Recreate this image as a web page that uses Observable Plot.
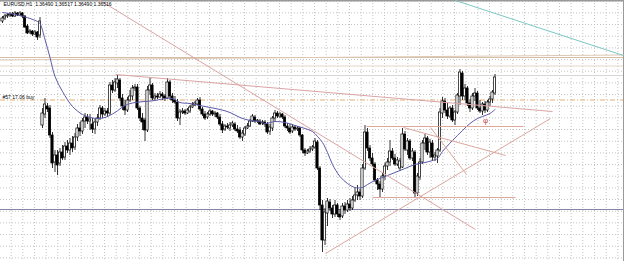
<!DOCTYPE html>
<html><head><meta charset="utf-8">
<script src="https://cdn.jsdelivr.net/npm/d3@7"></script>
<script src="https://cdn.jsdelivr.net/npm/@observablehq/plot@0.6"></script>
<style>
html,body{margin:0;padding:0;background:#fff;overflow:hidden}
#chart{width:625px;height:261px}
</style></head><body><div id="chart"></div>
<script>
// EURUSD hourly bars, prices in pips (1e-4)
const openPips = [13779,13782,13784,13785,13786,13784,13787,13785,13787,13784,13774,13768,13769,13766,13768,13765,
13675,13686,13694,13692,13665,13638,13645,13637,13648,13643,13654,13650,13657,13653,13663,13672,13669,13679,13683,13679,
13676,13671,13678,13682,13692,13686,13689,13687,13715,13710,13717,13720,13702,13694,13690,13700,13704,13712,13713,13692,13682,13680,13670,13710,13715,13702,13704,13703,13706,13704,13702,13718,13704,
13700,13698,13682,13688,13689,13687,13689,13693,13695,13696,13700,13691,13686,13683,13686,13689,13686,13687,13683,13676,13671,13674,13672,13675,13676,13671,13670,13663,13666,13672,13674,13679,13683,13679,
13679,13677,13678,13676,13669,13672,13682,13687,13684,13686,13683,13674,13672,13669,13673,13671,13672,13665,13650,13647,13649,13651,13653,13658,13632,13595,13560,13587,13598,13592,13586,13595,13586,13584,
13594,13590,13596,13592,13600,13605,13608,13604,13632,13668,13652,13642,13636,13620,13616,13611,13624,13634,13638,13649,13642,13636,13632,13633,13666,13650,13659,13642,13648,13607,13623,13638,13657,13662,13648,
13657,13643,13644,13650,13687,13699,13690,13684,13692,13680,13688,13704,13727,13704,13712,13697,13692,13704,13707,13692,13689,13696,13690,13698,13701,13707];
const highPips = [13784,13786,13787,13788,13788,13789,13788,13789,13788,13785,13776,13771,13770,13770,13769,13783,
13692,13702,13697,13695,13668,13650,13650,13652,13655,13658,13660,13662,13664,13667,13676,13678,13682,13687,13686,13686,
13682,13681,13686,13695,13694,13692,13692,13718,13720,13722,13725,13722,13706,13700,13703,13710,13715,13716,13716,13694,13687,13682,13714,13722,13717,13707,13707,13709,13708,13706,13722,13720,13707,
13704,13701,13691,13692,13691,13692,13695,13698,13699,13702,13703,13693,13689,13688,13691,13690,13689,13688,13686,13679,13676,13677,13678,13679,13678,13675,13673,13670,13674,13677,13681,13686,13685,13681,
13681,13680,13680,13678,13676,13684,13690,13689,13688,13687,13685,13677,13676,13676,13675,13674,13673,13666,13652,13651,13654,13655,13662,13660,13634,13600,13592,13602,13601,13595,13600,13597,13591,13597,
13598,13600,13602,13604,13612,13615,13611,13636,13675,13672,13655,13647,13638,13622,13619,13627,13637,13642,13660,13652,13646,13643,13642,13672,13669,13662,13661,13652,13650,13627,13642,13660,13666,13664,13661,
13660,13648,13652,13692,13703,13702,13697,13694,13695,13690,13707,13731,13729,13716,13714,13701,13707,13712,13709,13700,13698,13699,13700,13704,13710,13726];
const lowPips = [13777,13780,13782,13783,13783,13783,13784,13784,13782,13772,13766,13766,13764,13765,13760,13762,
13672,13682,13688,13662,13632,13628,13625,13634,13640,13640,13647,13645,13648,13650,13659,13664,13666,13672,13676,13670,
13667,13666,13674,13680,13682,13684,13683,13685,13707,13708,13712,13699,13690,13685,13688,13698,13700,13709,13690,13679,13670,13659,13668,13705,13700,13700,13701,13702,13700,13699,13701,13700,13697,
13696,13679,13675,13686,13685,13686,13687,13692,13694,13695,13689,13684,13680,13681,13684,13684,13683,13681,13674,13667,13669,13671,13669,13673,13669,13667,13661,13659,13664,13671,13673,13678,13677,13677,
13675,13675,13673,13666,13665,13669,13679,13682,13682,13681,13672,13669,13666,13667,13669,13669,13663,13647,13644,13646,13647,13649,13651,13630,13590,13548,13555,13574,13589,13582,13583,13583,13580,13582,
13586,13588,13589,13590,13598,13600,13600,13602,13630,13649,13639,13633,13618,13610,13603,13608,13620,13630,13634,13640,13634,13634,13629,13632,13649,13645,13640,13639,13603,13604,13620,13636,13650,13645,13642,
13639,13639,13637,13648,13682,13687,13681,13682,13678,13675,13686,13695,13700,13700,13694,13688,13690,13699,13690,13687,13685,13687,13688,13694,13697,13705];
const closePips = [13782,13784,13785,13786,13784,13787,13785,13787,13784,13773,13767,13769,13766,13768,13763,13779,
13687,13696,13691,13665,13637,13645,13635,13648,13642,13654,13650,13657,13652,13663,13672,13669,13679,13683,13679,13681,
13671,13678,13682,13692,13686,13689,13687,13715,13710,13718,13721,13702,13694,13690,13700,13704,13712,13713,13692,13682,13678,13670,13710,13715,13702,13704,13703,13706,13704,13702,13718,13704,13700,
13698,13682,13688,13689,13687,13690,13693,13695,13697,13700,13691,13686,13682,13686,13689,13686,13687,13683,13676,13670,13674,13673,13675,13677,13671,13669,13663,13667,13672,13674,13679,13684,13679,13680,
13676,13678,13676,13668,13673,13682,13687,13684,13686,13683,13674,13672,13668,13673,13671,13672,13665,13650,13647,13649,13651,13653,13659,13632,13595,13560,13588,13599,13592,13586,13595,13586,13583,13594,
13590,13596,13592,13600,13605,13608,13604,13632,13668,13652,13642,13636,13620,13616,13611,13624,13634,13638,13649,13642,13636,13640,13639,13666,13651,13659,13642,13649,13607,13624,13638,13657,13662,13648,13658,
13643,13645,13650,13688,13699,13690,13684,13692,13680,13688,13705,13728,13704,13712,13697,13692,13704,13707,13692,13689,13696,13690,13698,13701,13708,13723];

// moving average: bar index and value in pips
const maBar  = [0,7,14,15,17,19,21,24,28,32,35,38,41,45,49,53,57,61,65,68,71,75,79,83,87,91,95,99,103,105,109,113,117,121,124,126,128,130,132,135,138,141,144,146,149,153,157,161,165,169,172,174,176,180,184,187,190,192,195,197];
const maPips = [13788,13785,13779,13777,13761,13743,13724,13709,13694,13686,13683,13682,13683,13688,13695,13698,13699,13700,13702,13702,13698,13697,13695,13693,13691,13688,13683,13680,13679,13677,13679,13678,13675,13672,13669,13664,13658,13648,13636,13624,13617,13613,13613,13616,13620,13624,13628,13632,13636,13638,13640,13642,13649,13660,13670,13677,13682,13684,13687,13691];

// drawn objects: anchor bars and prices (pips)
const redTrends = [
  {bar1: 38.4, p1: 13801, bar2: 189.2, p2: 13571},
  {bar1: 45.2, p1: 13726, bar2: 220.0, p2: 13689}
];
const channelLines = [
  {bar1: 129.2, p1: 13547, bar2: 219.2, p2: 13682},
  {bar1: 145.6, p1: 13674, bar2: 208.4, p2: 13674},
  {bar1: 160.4, p1: 13673, bar2: 201.2, p2: 13645},
  {bar1: 148.0, p1: 13603, bar2: 205.2, p2: 13603},
  {bar1: 171.2, p1: 13673, bar2: 185.6, p2: 13626}
];
const tealTrend = [{bar1: 181.2, p1: 13800, bar2: 248.4, p2: 13745}];
const tanSloped = [{bar1: -0.8, p1: 13740.5, bar2: 248.4, p2: 13745.5}];
const tanLevels = [13743];
const tanLightLevels = [13734.5];
const grayLevels = [13725];
const orderLevel = [13700.5];
const blueLevel = [13591];
const orderMarker = [{bar: 193.2, p: 13680}];

const header = "EURUSD,H1  1.36490 1.36517 1.36490 1.36516";
const orderLabel = "#57 17.06 buy";

const P = v => v / 1e4;
const candles = openPips.map((o, i) => ({i, o: P(o), h: P(highPips[i]), l: P(lowPips[i]), c: P(closePips[i])}));
const ma = maBar.map((b, k) => ({b, v: P(maPips[k])}));
const linkOpts = {x1: "bar1", y1: d => P(d.p1), x2: "bar2", y2: d => P(d.p2)};

const xDomain = [-0.8, 248.4];
const yDomain = [1.3539, 1.38];
const gridX = d3.range(0, 54).map(k => -1.2 + k * 4.6667);
const gridY = d3.range(0, 23).map(k => 1.37993 - k * 0.0011667);

const chart = Plot.plot({
  width: 625, height: 261,
  marginTop: 0, marginBottom: 0, marginLeft: 0, marginRight: 2,
  x: {domain: xDomain, axis: null},
  y: {domain: yDomain, axis: null},
  style: {background: "#fff", fontFamily: "'Liberation Sans', Arial, sans-serif"},
  marks: [
    Plot.ruleX(gridX, {x: d => d, stroke: "#c4c4c4", strokeDasharray: "1,2", strokeWidth: 1}),
    Plot.ruleY(gridY, {y: d => d, stroke: "#c4c4c4", strokeDasharray: "1,2", strokeWidth: 1}),
    Plot.ruleY([yDomain[1]], {y: d => d, stroke: "#999", strokeWidth: 2}),
    Plot.ruleX([xDomain[1]], {x: d => d, stroke: "#999", strokeWidth: 1}),
    Plot.ruleY(tanLevels.map(P), {y: d => d, stroke: "#d6bea6", strokeWidth: 1}),
    Plot.link(tanSloped, {...linkOpts, stroke: "#dcc8b4", strokeWidth: 1}),
    Plot.ruleY(tanLightLevels.map(P), {y: d => d, stroke: "#e4d6c8", strokeWidth: 1}),
    Plot.ruleY(grayLevels.map(P), {y: d => d, stroke: "#d6d6d6", strokeWidth: 1}),
    Plot.ruleY(orderLevel.map(P), {y: d => d, stroke: "#e2b07a", strokeWidth: 1, strokeDasharray: "5,2,1,2"}),
    Plot.ruleY(blueLevel.map(P), {y: d => d, stroke: "#8585a8", strokeWidth: 1}),
    Plot.ruleX(candles, {x: "i", y1: "l", y2: "h", stroke: "#000", strokeWidth: 0.8}),
    Plot.rect(candles, {x1: d => d.i - 0.45, x2: d => d.i + 0.45, y1: "o", y2: "c",
      fill: d => d.c >= d.o ? "#fff" : "#000", stroke: "#000", strokeWidth: 0.7}),
    Plot.line(ma, {x: "b", y: "v", stroke: "#5a5aa8", strokeWidth: 1, curve: "catmull-rom"}),
    Plot.link(redTrends, {...linkOpts, stroke: "#dba4a4", strokeWidth: 1}),
    Plot.link(channelLines, {...linkOpts, stroke: "#dca89c", strokeWidth: 1}),
    Plot.link(tealTrend, {...linkOpts, stroke: "#7cc8c8", strokeWidth: 1}),
    Plot.text(orderMarker, {x: "bar", y: d => P(d.p), text: () => "φ", fill: "#c05050", fontSize: 8}),
    Plot.text([header], {frameAnchor: "top-left", text: d => d, dx: 3, dy: 2, fontSize: 5, fill: "#000", textAnchor: "start", lineAnchor: "top"}),
    Plot.text([orderLabel], {frameAnchor: "left", y: () => P(orderLevel[0]), text: d => d, dx: 2, dy: -3, fontSize: 5, fill: "#000", textAnchor: "start"})
  ]
});
document.getElementById("chart").appendChild(chart);
</script>
</body></html>
